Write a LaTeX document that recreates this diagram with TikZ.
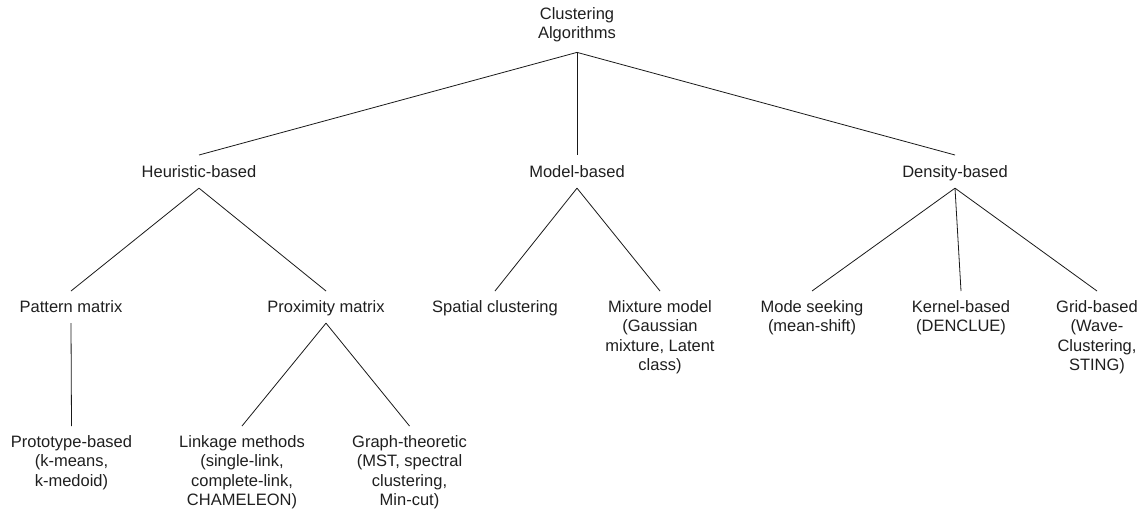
\documentclass[tikz,border=0pt]{standalone}
\usepackage{fontspec}
\setmainfont{Liberation Sans}
\begin{document}
\begin{tikzpicture}[x=1pt,y=-1pt,
  txt/.style={anchor=north,inner sep=0pt,align=center,text=black!88,
    font=\fontsize{16.5}{19.6}\selectfont},
  link/.style={line width=0.8pt,draw=black!90}]
\useasboundingbox (0,0) rectangle (1145,512);

% root
\node[txt] (root) at (577,7) {Clustering\\Algorithms};

% second level
\node[txt] (heur) at (199,165) {Heuristic-based};
\node[txt] (model) at (577,165) {Model-based};
\node[txt] (dens) at (955,165) {Density-based};

% third level
\node[txt] (patt) at (71,300) {Pattern matrix};
\node[txt] (prox) at (326,300) {Proximity matrix};
\node[txt] (spat) at (495,300) {Spatial clustering};
\node[txt] (mix) at (660,300) {Mixture model\\(Gaussian\\mixture, Latent\\class)};
\node[txt] (mode) at (812,300) {Mode seeking\\(mean-shift)};
\node[txt] (kern) at (961,300) {Kernel-based\\(DENCLUE)};
\node[txt] (grid) at (1097,300) {Grid-based\\(Wave-\\Clustering,\\STING)};

% fourth level
\node[txt] (proto) at (71.5,435) {Prototype-based\\(k-means,\\k-medoid)};
\node[txt] (link) at (242,435) {Linkage methods\\(single-link,\\complete-link,\\CHAMELEON)};
\node[txt] (graph) at (409.5,435) {Graph-theoretic\\(MST, spectral\\clustering,\\Min-cut)};

% connectors
\foreach \c in {heur,model,dens}
  \draw[link] ([yshift=-10pt]root.south) -- ([yshift=10pt]\c.north);
\foreach \p/\c in {heur/patt,heur/prox,model/spat,model/mix,
                   dens/mode,dens/kern,dens/grid,
                   patt/proto,prox/link,prox/graph}
  \draw[link] ([yshift=-11pt]\p.base) -- ([yshift=9pt]\c.north);
\end{tikzpicture}
\end{document}
